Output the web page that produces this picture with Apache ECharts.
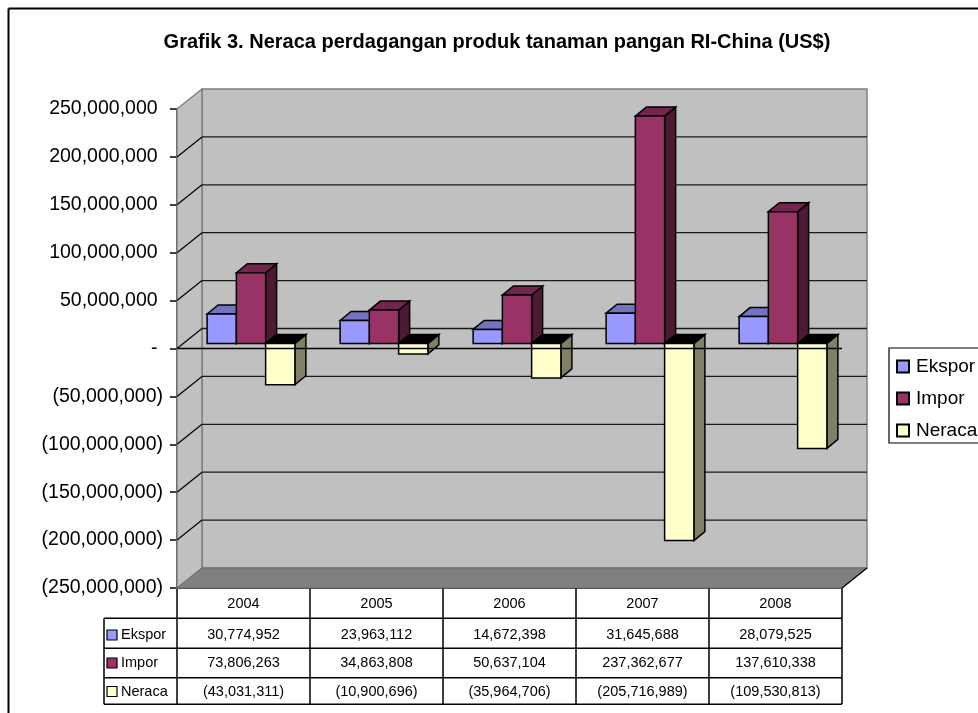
<!DOCTYPE html>
<html>
<head>
<meta charset="utf-8">
<style>html,body{margin:0;padding:0;background:#fff}#c{width:978px;height:713px}</style>
<script src="https://cdn.jsdelivr.net/npm/echarts@6/dist/echarts.min.js"></script>
</head>
<body>
<div id="c"></div>
<script>
const years = ['2004', '2005', '2006', '2007', '2008'];
const ekspor = [30774952, 23963112, 14672398, 31645688, 28079525];
const impor = [73806263, 34863808, 50637104, 237362677, 137610338];
const neraca = [-43031311, -10900696, -35964706, -205716989, -109530813];
const seriesNames = ['Ekspor', 'Impor', 'Neraca'];
const yTicks = [-250000000, -200000000, -150000000, -100000000, -50000000, 0, 50000000, 100000000, 150000000, 200000000, 250000000];

const FONT = '"Liberation Sans", Arial, sans-serif';
const WALL_DX = 25, WALL_DY = -20;      // projection of the chart depth
const PLANE_DX = 7.5, PLANE_DY = -5;    // plane of the bars' front faces
const BAR_DX = 11, BAR_DY = -9;         // depth of a bar
const BAR_RATIO = 0.22;
const looks = [
  {front: '#9999FF', top: '#7373BF', side: '#4D4D80'},
  {front: '#993366', top: '#73264D', side: '#4D1A33'},
  {front: '#FFFFCC', top: '#000000', side: '#808066'}
];
const LINE = {stroke: '#000', lineWidth: 1.5, lineJoin: 'miter'};

function fmt(v) {
  const s = Math.abs(v).toString().replace(/\B(?=(\d{3})+$)/g, ',');
  return v < 0 ? '(' + s + ')' : s;
}
function line(x1, y1, x2, y2, stroke, w) {
  return {type: 'line', shape: {x1, y1, x2, y2}, style: {stroke, lineWidth: w}, silent: true};
}
function poly(points, fill) {
  return {type: 'polygon', shape: {points}, style: Object.assign({fill}, LINE), silent: true};
}
function txt(x, y, text, align) {
  return {type: 'text', silent: true, style: {x, y, text, fill: '#000', align, verticalAlign: 'middle',
    textAlign: align, textVerticalAlign: 'middle', font: '14.5px ' + FONT}};
}
function plotEdges(api) {
  const cw = api.size([1, 0])[0];
  return {
    l: api.coord([0, 0])[0] - cw / 2,
    r: api.coord([years.length - 1, 0])[0] + cw / 2,
    t: api.coord([0, 250000000])[1],
    b: api.coord([0, -250000000])[1]
  };
}

function renderWalls(params, api) {
  const {l, r, t, b} = plotEdges(api);
  const dx = WALL_DX, dy = WALL_DY;
  const wall = {stroke: '#808080', lineWidth: 1.5};
  const kids = [
    {type: 'polygon', silent: true, shape: {points: [[l + dx, t + dy], [r + dx, t + dy], [r + dx, b + dy], [l + dx, b + dy]]}, style: Object.assign({fill: '#C0C0C0'}, wall)},
    {type: 'polygon', silent: true, shape: {points: [[l, t], [l + dx, t + dy], [l + dx, b + dy], [l, b]]}, style: Object.assign({fill: '#C0C0C0'}, wall)},
    {type: 'polygon', silent: true, shape: {points: [[l, b], [l + dx, b + dy], [r + dx, b + dy], [r, b]]}, style: {fill: '#808080', stroke: '#6f6f6f', lineWidth: 1}},
    line(r, b, r + dx, b + dy, '#000', 1.2)
  ];
  yTicks.forEach(v => {
    if (v === 250000000 || v === -250000000) return;
    const y = api.coord([0, v])[1];
    kids.push(line(l, y, l + dx, y + dy, '#000', 1.3));
    kids.push(line(l + dx, y + dy, r + dx, y + dy, '#1a1a1a', 1.3));
  });
  return {type: 'group', children: kids};
}

function renderBar(params, api) {
  const k = params.seriesIndex - 1;
  const look = looks[k];
  const i = api.value(0), v = api.value(1);
  const w = api.size([1, 0])[0] * BAR_RATIO;
  const base = api.coord([i, 0]), end = api.coord([i, v]);
  const x0 = base[0] + PLANE_DX + (k - 1.5) * w, x1 = x0 + w;
  const yb = base[1] + PLANE_DY, ye = end[1] + PLANE_DY;
  const top = Math.min(yb, ye), bot = Math.max(yb, ye);
  const dx = BAR_DX, dy = BAR_DY;
  return {type: 'group', children: [
    poly([[x1, top], [x1 + dx, top + dy], [x1 + dx, bot + dy], [x1, bot]], look.side),
    poly([[x0, top], [x0 + dx, top + dy], [x1 + dx, top + dy], [x1, top]], look.top),
    poly([[x0, top], [x1, top], [x1, bot], [x0, bot]], look.front)
  ]};
}

function renderZero(params, api) {
  const {l, r} = plotEdges(api);
  const y = api.coord([0, 0])[1];
  return line(l, y, r, y, '#000', 1.5);
}

function renderTable(params, api) {
  const {r: right} = plotEdges(api);
  const rowLines = [618.3, 648.3, 677.7, 704.3];
  const rowText = [635, 663, 691.5];
  const keyX = 104;
  const kids = [line(keyX, rowLines[0], keyX, rowLines[3], '#000', 1.5)];
  rowLines.forEach(y => kids.push(line(keyX, y, right, y, '#000', 1.5)));
  [ekspor, impor, neraca].forEach((vals, r) => {
    const y = rowText[r];
    kids.push({type: 'rect', silent: true, shape: {x: 107, y: y - 5, width: 10, height: 10},
      style: {fill: looks[r].front, stroke: '#000', lineWidth: 1.2}});
    kids.push(txt(121, y, seriesNames[r], 'left'));
    vals.forEach((v, i) => kids.push(txt(api.coord([i, 0])[0], y, fmt(v), 'center')));
  });
  return {type: 'group', children: kids};
}

function barSeries(name, vals, k) {
  return {
    name, type: 'custom', renderItem: renderBar, clip: false, z: 3,
    encode: {x: 0, y: 1},
    itemStyle: {color: looks[k].front, borderColor: '#000', borderWidth: 1.3},
    data: vals.map((v, i) => [i, v])
  };
}

const chart = echarts.init(document.getElementById('c'), null, {renderer: 'canvas'});
chart.setOption({
  animation: false,
  backgroundColor: '#fff',
  title: {
    text: 'Grafik 3. Neraca perdagangan produk tanaman pangan RI-China (US$)',
    left: 492, top: 27, textAlign: 'center',
    textStyle: {fontFamily: FONT, fontWeight: 'bold', fontSize: 20, color: '#000'}
  },
  legend: {
    data: seriesNames, orient: 'vertical', left: 889, top: 348,
    padding: [9, 5, 3, 7], itemWidth: 12, itemHeight: 12, itemGap: 13,
    borderColor: '#000', borderWidth: 1.2, backgroundColor: '#fff', selectedMode: false,
    icon: 'rect',
    textStyle: {fontFamily: FONT, fontSize: 19, color: '#000', padding: [0, 0, 0, 2]}
  },
  graphic: [
    {type: 'line', shape: {x1: 8.5, y1: 8.5, x2: 978, y2: 8.5}, style: {stroke: '#000', lineWidth: 2}, silent: true},
    {type: 'line', shape: {x1: 8.5, y1: 8.5, x2: 8.5, y2: 713}, style: {stroke: '#000', lineWidth: 2}, silent: true}
  ],
  grid: {left: 177, top: 109, width: 665, height: 479, containLabel: false},
  xAxis: {
    type: 'category', data: years, position: 'bottom',
    axisLine: {onZero: false, lineStyle: {color: '#000', width: 1.5}},
    axisTick: {show: true, alignWithLabel: false, inside: false, length: 116, lineStyle: {color: '#000', width: 1.5}},
    axisLabel: {fontFamily: FONT, fontSize: 14.5, color: '#000', margin: 8, interval: 0},
    splitLine: {show: false}
  },
  yAxis: {
    type: 'value', min: -250000000, max: 250000000, interval: 50000000,
    axisLine: {show: true, onZero: false, lineStyle: {color: '#000', width: 1.5}},
    axisTick: {show: true, length: 7, lineStyle: {color: '#000', width: 1.5}},
    axisLabel: {
      fontFamily: FONT, fontSize: 19.5, color: '#000', margin: 14, padding: [4, 0, 0, 0],
      formatter: v => v === 0 ? '-\u00a0' : (v < 0 ? fmt(v) : fmt(v) + '\u00a0')
    },
    splitLine: {show: false}
  },
  series: [
    {name: 'walls', type: 'custom', renderItem: renderWalls, clip: false, z: 1, data: [[0, 0]], encode: {x: 0, y: 1}, silent: true},
    barSeries('Ekspor', ekspor, 0),
    barSeries('Impor', impor, 1),
    barSeries('Neraca', neraca, 2),
    {name: 'zero', type: 'custom', renderItem: renderZero, clip: false, z: 4, data: [[0, 0]], encode: {x: 0, y: 1}, silent: true},
    {name: 'table', type: 'custom', renderItem: renderTable, clip: false, z: 4, data: [[0, 0]], encode: {x: 0, y: 1}, silent: true}
  ]
});
</script>
</body>
</html>
